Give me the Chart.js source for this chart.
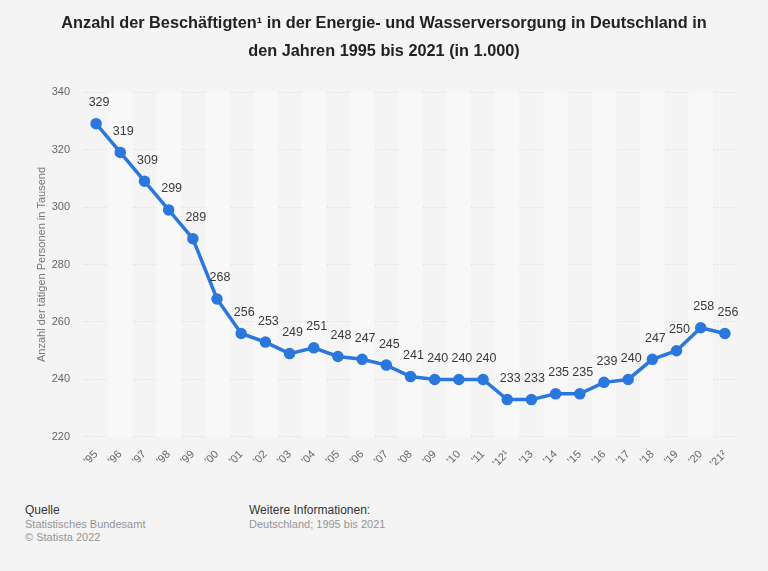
<!DOCTYPE html>
<html lang="de">
<head>
    <meta charset="UTF-8">
    <title>Beschäftigte Energie- und Wasserversorgung</title>
    <script src="https://cdn.jsdelivr.net/npm/chart.js"></script>
    <style>
        body {
            margin: 0;
            background: #f4f4f4;
            font-family: "Liberation Sans", Arial, sans-serif;
        }
        #wrap {
            position: relative;
            width: 768px;
            height: 571px;
        }
        canvas { display: block; }
        .foot {
            position: absolute;
            top: 504px;
            font-size: 11px;
            line-height: 13px;
            color: #949494;
        }
        .foot b {
            display: block;
            font-weight: normal;
            font-size: 12px;
            color: #333;
            margin-bottom: 1px;
        }
    </style>
</head>
<body>
<div id="wrap">
    <canvas id="chart" width="768" height="473"></canvas>
    <div class="foot" style="left:25px"><b>Quelle</b>Statistisches Bundesamt<br>© Statista 2022</div>
    <div class="foot" style="left:249px"><b>Weitere Informationen:</b>Deutschland; 1995 bis 2021</div>
</div>

<script>
    // data
    const years = ["'95", "'96", "'97", "'98", "'99", "'00", "'01", "'02", "'03", "'04", "'05", "'06", "'07",
        "'08", "'09", "'10", "'11", "'12¹", "'13", "'14", "'15", "'16", "'17", "'18", "'19", "'20", "'21²"];
    const employees = [329, 319, 309, 299, 289, 268, 256, 253, 249, 251, 248, 247, 245,
        241, 240, 240, 240, 233, 233, 235, 235, 239, 240, 247, 250, 258, 256];
    const yTicks = [220, 240, 260, 280, 300, 320, 340];

    const font = '"Liberation Sans", Arial, sans-serif';

    // alternating column bands behind the plot
    const stripes = {
        id: 'stripes',
        beforeDatasetsDraw(chart) {
            const { ctx, chartArea, scales } = chart;
            const w = scales.x.getPixelForValue(1) - scales.x.getPixelForValue(0);
            ctx.save();
            years.forEach((y, i) => {
                if (i % 2 === 1) {
                    const cx = scales.x.getPixelForValue(i);
                    ctx.fillStyle = '#f8f8f8';
                    ctx.fillRect(cx - w / 2, chartArea.top, w, chartArea.bottom - chartArea.top);
                }
            });
            ctx.restore();
        }
    };

    // value labels above each point
    const valueLabels = {
        id: 'valueLabels',
        afterDatasetsDraw(chart) {
            const { ctx } = chart;
            const meta = chart.getDatasetMeta(0);
            ctx.save();
            ctx.font = '12.5px ' + font;
            ctx.fillStyle = '#3a3a3a';
            ctx.textAlign = 'center';
            ctx.textBaseline = 'middle';
            meta.data.forEach((pt, i) => {
                ctx.fillText(employees[i], pt.x + 3, pt.y - 21);
            });
            ctx.restore();
        }
    };

    new Chart(document.getElementById('chart'), {
        type: 'line',
        data: {
            labels: years,
            datasets: [{
                data: employees,
                borderColor: '#2a77dd',
                backgroundColor: '#2a77dd',
                borderWidth: 3.5,
                pointRadius: 4,
                pointHoverRadius: 4,
                tension: 0
            }]
        },
        options: {
            responsive: false,
            animation: false,
            layout: { autoPadding: false, padding: { left: 31, right: 31, top: 6, bottom: 0 } },
            plugins: {
                legend: { display: false },
                tooltip: { enabled: false },
                title: {
                    display: true,
                    text: ['Anzahl der Beschäftigten¹ in der Energie- und Wasserversorgung in Deutschland in',
                        'den Jahren 1995 bis 2021 (in 1.000)'],
                    color: '#222',
                    font: { family: font, size: 16.3, weight: 'bold', lineHeight: 1.72 },
                    padding: { top: 3, bottom: 27 }
                }
            },
            scales: {
                x: {
                    offset: true,
                    grid: { display: false },
                    border: { display: false },
                    ticks: {
                        color: '#666',
                        font: { family: font, size: 11 },
                        maxRotation: 45,
                        minRotation: 45,
                        autoSkip: false
                    }
                },
                y: {
                    min: 220,
                    max: 340,
                    afterBuildTicks(axis) {
                        axis.ticks = yTicks.map(v => ({ value: v }));
                    },
                    afterFit(axis) {
                        axis.width = 53;
                    },
                    grid: { color: '#d8d8d8', lineWidth: 1, drawTicks: false },
                    border: { display: false, dash: [1, 2] },
                    ticks: {
                        color: '#666',
                        font: { family: font, size: 11 },
                        padding: 14
                    },
                    title: {
                        display: true,
                        text: 'Anzahl der tätigen Personen in Tausend',
                        color: '#777',
                        font: { family: font, size: 11 },
                        padding: { top: 4.5, bottom: 3 }
                    }
                }
            }
        },
        plugins: [stripes, valueLabels]
    });
</script>
</body>
</html>
